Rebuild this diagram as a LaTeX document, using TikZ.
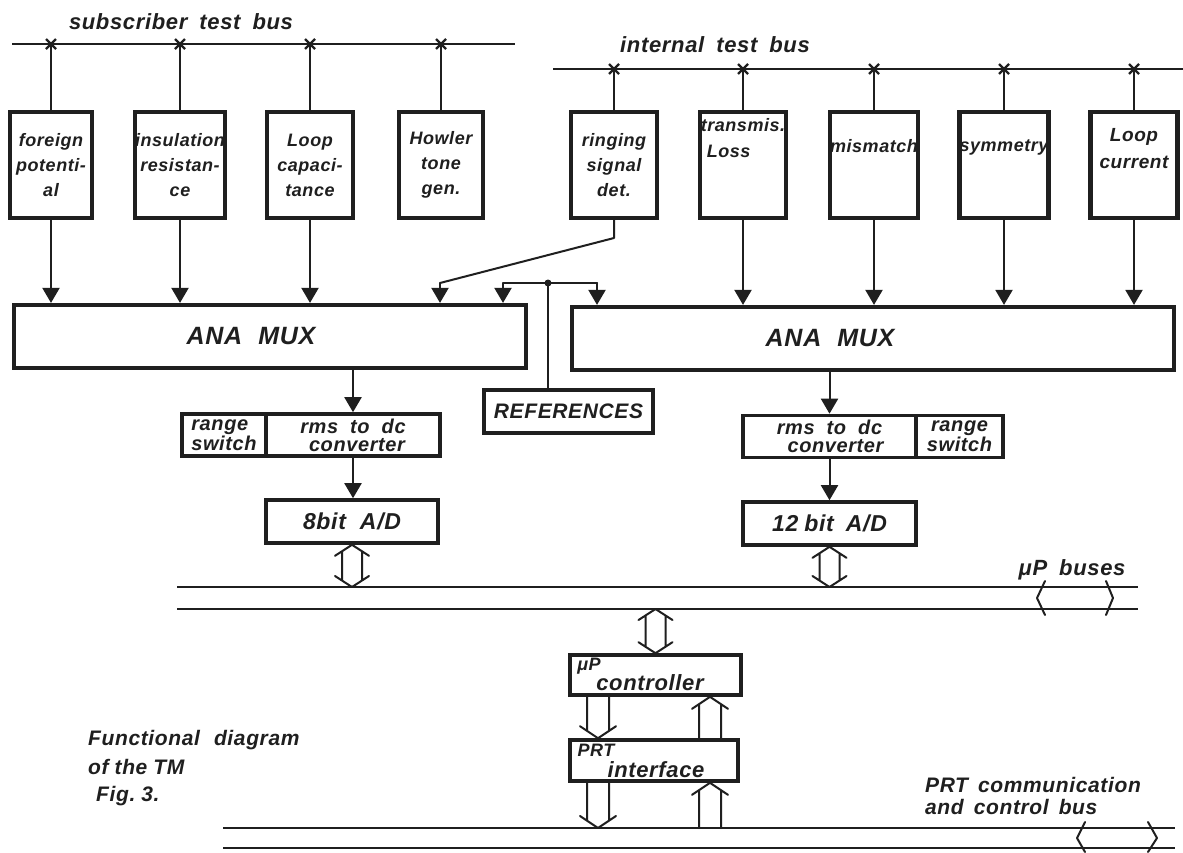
\documentclass[tikz,border=0pt]{standalone}
\usepackage{fontspec}
\setmainfont{Liberation Sans}
\newfontfamily\hand{Liberation Sans}[LetterSpace=3]
\usetikzlibrary{arrows.meta,calc}
\newcommand\fsz[2]{\fontsize{#1}{#2}\selectfont}
\tikzset{
  every node/.style={font=\hand\itshape\bfseries, inner sep=0pt, text=black!88},
  blk/.style={draw, line width=4.2pt, inner sep=0pt, draw=black!88},
  tbox/.style={blk, minimum width=86pt, minimum height=106pt, align=center, font=\hand\itshape\bfseries\fsz{18}{25}},
  conn/.style={line width=2pt, line cap=round, line join=round, draw=black!88},
  arr/.style={conn, -{Triangle[width=17pt,length=15pt]}},
  bus/.style={line width=2.2pt, draw=black!88},
  lbl/.style={font=\hand\itshape\bfseries\fsz{22}{26}},
  muxt/.style={font=\hand\itshape\bfseries\fsz{25}{30}},
  cvt/.style={blk, line width=3.6pt, minimum height=42pt, align=center, font=\hand\itshape\bfseries\fsz{20}{18}},
  adt/.style={blk, line width=3.6pt, minimum height=43pt, minimum width=173pt, font=\hand\itshape\bfseries\fsz{23}{24}},
}
\newcommand\busx[1]{\draw[line width=2.4pt, draw=black!88] #1 ++(-5,-5) -- ++(10,10) ++(0,-10) -- ++(-10,10);}
\newcommand\ArrUD[2]{\draw[conn] let \p1=#1, \p2=#2 in
 (\x1-17pt,\y1-11pt) -- (\x1,\y1) -- (\x1+17pt,\y1-11pt)
 (\x1-10pt,\y1-6.5pt) -- (\x1-10pt,\y2+6.5pt)
 (\x1+10pt,\y1-6.5pt) -- (\x1+10pt,\y2+6.5pt)
 (\x1-17pt,\y2+11pt) -- (\x1,\y2) -- (\x1+17pt,\y2+11pt);}
\newcommand\ArrD[2]{\draw[conn] let \p1=#1, \p2=#2 in
 (\x1-11pt,\y1) -- (\x1-11pt,\y2+7.5pt)
 (\x1+11pt,\y1) -- (\x1+11pt,\y2+7.5pt)
 (\x1-18pt,\y2+12pt) -- (\x1,\y2) -- (\x1+18pt,\y2+12pt);}
\newcommand\ArrU[2]{\draw[conn] let \p1=#1, \p2=#2 in
 (\x1-11pt,\y1) -- (\x1-11pt,\y2-7.5pt)
 (\x1+11pt,\y1) -- (\x1+11pt,\y2-7.5pt)
 (\x1-18pt,\y2-12pt) -- (\x1,\y2) -- (\x1+18pt,\y2-12pt);}
\begin{document}
\begin{tikzpicture}[x=1pt,y=-1pt]
\useasboundingbox[fill=white] (0,0) rectangle (1183,852);
% ---------- test buses
\coordinate (sbL) at (12,44); \coordinate (sbR) at (515,44);
\coordinate (ibL) at (553,69); \coordinate (ibR) at (1183,69);
\draw[bus] (sbL) -- (sbR);
\draw[bus] (ibL) -- (ibR);
\node[lbl] (sblab) at (181,22) {subscriber\hspace{12pt}test\hspace{12pt}bus};
\node[lbl] (iblab) at (715,45) {internal\hspace{12pt}test\hspace{12pt}bus};
% ---------- measuring units
\node[tbox, minimum width=82pt] (fp) at (51,165) {foreign\\potenti-\\al};
\node[tbox] (ir) at (180,165) {insulation\\resistan-\\ce};
\node[tbox] (lc) at (310,165) {Loop\\capaci-\\tance};
\node[tbox, minimum width=84pt] (ht) at (441,165) {Howler\\tone\\gen.};
\node[tbox] (rs) at (614,165) {ringing\\signal\\det.};
\node[tbox, align=left] (tl) at (743,165) {transmis.\\[1pt]\hspace{6pt}Loss\\[30pt]};
\node[tbox] (mm) at (874,165) {mismatch\\[14pt]};
\node[tbox] (sy) at (1004,165) {symmetry\\[14pt]};
\node[tbox, minimum width=87pt, font=\hand\itshape\bfseries\fsz{19}{27}] (lcur) at (1134,165) {Loop\\current\\[6pt]};
% ---------- multiplexers
\node[blk, minimum width=512pt, minimum height=63pt] (muxL) at (270,336.5) {};
\node[blk, minimum width=602pt, minimum height=63pt] (muxR) at (873,338.5) {};
\node[muxt] (muxLt) at (251,336) {ANA\hspace{16pt}MUX};
\node[muxt] (muxRt) at (830,338) {ANA\hspace{16pt}MUX};
\node[blk, line width=3.6pt, minimum width=169pt, minimum height=43pt, font=\hand\itshape\bfseries\fsz{21}{26}] (refs) at (568.5,411.5) {REFERENCES};
% ---------- converters
\node[cvt, minimum width=84pt, align=left] (rgL) at (224,435) {range\\switch};
\node[cvt, minimum width=174pt] (cvL) at (353,435) {rms\hspace{12pt}to\hspace{12pt}dc\\\hspace{8pt}converter};
\node[cvt, minimum width=173pt] (cvR) at (829.5,436.5) {rms\hspace{12pt}to\hspace{12pt}dc\\\hspace{12pt}converter};
\node[cvt, minimum width=87pt] (rgR) at (959.5,436.5) {range\\switch};
\node[adt, minimum width=172pt] (ad8) at (352,521.5) {8bit\hspace{14pt}A/D};
\node[adt] (ad12) at (829.5,523.5) {12\hspace{6pt}bit\hspace{12pt}A/D};
% ---------- controller
\node[blk, line width=3.6pt, minimum width=171pt, minimum height=40pt] (mc) at (655.5,675) {};
\node[font=\hand\itshape\bfseries\fsz{18}{18}] (mct1) at (589,666) {μP};
\node[font=\hand\itshape\bfseries\fsz{22}{24}] (mct2) at (650,683) {controller};
\node[blk, line width=3.6pt, minimum width=168pt, minimum height=41pt] (prt) at (654,760.5) {};
\node[font=\hand\itshape\bfseries\fsz{18}{18}] (prt1) at (596,750) {PRT};
\node[font=\hand\itshape\bfseries\fsz{22}{24}] (prt2) at (656,770) {interface};
% ---------- microprocessor buses
\coordinate (mb1L) at (177,587); \coordinate (mb1R) at (1138,587);
\coordinate (mb2L) at (177,609); \coordinate (mb2R) at (1138,609);
\draw[bus] (mb1L) -- (mb1R);
\draw[bus] (mb2L) -- (mb2R);
\draw[conn] (1045,581) -- (1037,598) -- (1045,615);
\draw[conn] (1106,581) -- (1113,598) -- (1106,615);
\node[lbl] (mblab) at (1072,570) {μP\hspace{12pt}buses};
\coordinate (pb1L) at (223,828); \coordinate (pb1R) at (1175,828);
\coordinate (pb2L) at (223,848); \coordinate (pb2R) at (1175,848);
\draw[bus] (pb1L) -- (pb1R);
\draw[bus] (pb2L) -- (pb2R);
\draw[conn] (1085,822) -- (1077,838) -- (1085,852);
\draw[conn] (1148,822) -- (1157,838) -- (1148,852);
\node[lbl, anchor=west, font=\hand\itshape\bfseries\fsz{21}{24}] (pl1) at (925,785) {PRT\hspace{10pt}communication};
\node[lbl, anchor=west, font=\hand\itshape\bfseries\fsz{21}{24}] (pl2) at (925,807) {and\hspace{10pt}control\hspace{10pt}bus};
% ---------- caption
\node[lbl, anchor=west, font=\hand\itshape\bfseries\fsz{21}{24}] (cap1) at (88,740) {Functional\hspace{14pt}diagram};
\node[lbl, anchor=west, font=\hand\itshape\bfseries\fsz{21}{24}] (cap2) at (88,767) {of\hspace{6pt}the\hspace{6pt}TM};
\node[lbl, anchor=west, font=\hand\itshape\bfseries\fsz{21}{24}] (cap3) at (96,796) {Fig.\hspace{6pt}3.};
% ---------- bus taps
\foreach \b in {fp,ir,lc,ht} {
  \draw[conn] (\b.north |- sbL) -- (\b.north);
  \busx{(\b.north |- sbL)}
}
\foreach \b in {rs,tl,mm,sy,lcur} {
  \draw[conn] (\b.north |- ibL) -- (\b.north);
  \busx{(\b.north |- ibL)}
}
% ---------- into the multiplexers
\foreach \b in {fp,ir,lc} \draw[arr] (\b.south) -- (\b.south |- muxL.north);
\foreach \b in {tl,mm,sy,lcur} \draw[arr] (\b.south) -- (\b.south |- muxR.north);
\coordinate (rb1) at (614,238); \coordinate (rb2) at (440,283);
\draw[conn] (rs.south) -- (rb1) -- (rb2);
\draw[arr] (rb2) -- (rb2 |- muxL.north);
\coordinate (rdot) at (548,283); \coordinate (rl) at (503,283); \coordinate (rr) at (597,283);
\draw[conn] (refs.north -| rdot) -- (rdot);
\draw[conn] (rl) -- (rr);
\fill[black!88] (rdot) circle (3.5);
\draw[arr] (rl) -- (rl |- muxL.north);
\draw[arr] (rr) -- (rr |- muxR.north);
% ---------- converter chain
\draw[arr] (cvL.north |- muxL.south) -- (cvL.north);
\draw[arr] (cvL.south) -- (cvL.south |- ad8.north);
\draw[arr] (cvR.north |- muxR.south) -- (cvR.north);
\draw[arr] (cvR.south) -- (cvR.south |- ad12.north);
% ---------- wide arrows
\ArrUD{(ad8.south)}{(ad8.south |- mb1L)}
\ArrUD{(ad12.south)}{(ad12.south |- mb1L)}
\ArrUD{(mc.north |- mb2L)}{(mc.north)}
\coordinate (dnx) at (598,0); \coordinate (upx) at (710,0);
\ArrD{(dnx |- mc.south)}{(dnx |- prt.north)}
\ArrU{(upx |- prt.north)}{(upx |- mc.south)}
\ArrD{(dnx |- prt.south)}{(dnx |- pb1L)}
\ArrU{(upx |- pb1L)}{(upx |- prt.south)}
\end{tikzpicture}
\end{document}
